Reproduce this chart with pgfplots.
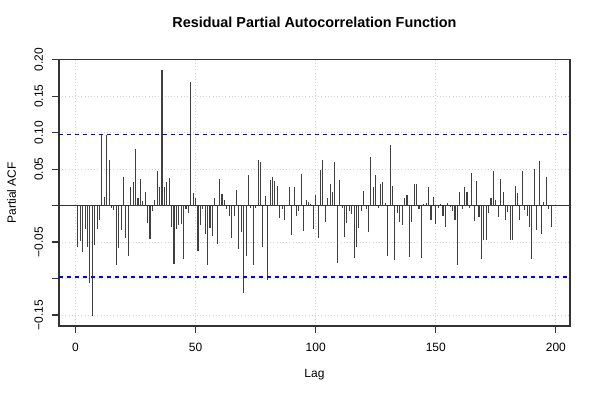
\documentclass[border=0pt]{standalone}
\usepackage{pgfplots}
\pgfplotsset{compat=1.18}
\usepackage{fontspec}
\setmainfont{Liberation Sans}
\definecolor{rblue}{RGB}{0,0,255}
\definecolor{rgrid}{RGB}{211,211,211}
\begin{document}
\begin{tikzpicture}
\path[use as bounding box] (0,0) rectangle (450pt,300pt);
\begin{axis}[
  at={(44.25pt,55.5pt)}, anchor=south west,
  scale only axis, width=383.25pt, height=199.9pt,
  xmin=-6.88, xmax=205.88, ymin=-0.16501, ymax=0.2003,
  axis line style={draw=black!80, line width=0.9pt},
  tick style={draw=black!80, line width=0.9pt},
  tick align=outside, major tick length=5.25pt,
  xtick pos=bottom, ytick pos=left,
  xtick={0,50,100,150,200},
  ytick={-0.15,-0.1,-0.05,0,0.05,0.1,0.15,0.2},
  yticklabels={−0.15,,−0.05,,0.05,0.10,0.15,0.20},
  /pgf/number format/assume math mode=true,
  tick label style={font=\fontsize{9}{11}\selectfont},
  xticklabel style={anchor=center, yshift=-10.5pt},
  yticklabel style={xshift=-10pt, rotate=90, anchor=center},
  grid=major, grid style={draw=rgrid, dotted, line width=0.75pt},
  every axis title/.style={at={(axis description cs:0.5,1)}, yshift=28pt, anchor=center, font=\bfseries\fontsize{10.8}{13}\selectfont},
  every axis x label/.style={at={(axis description cs:0.5,0)}, yshift=-36.75pt, anchor=center, font=\fontsize{9}{11}\selectfont},
  every axis y label/.style={at={(axis description cs:0,0.5)}, xshift=-35.5pt, rotate=90, anchor=center, font=\fontsize{9}{11}\selectfont},
  title={Residual Partial Autocorrelation Function},
  xlabel={Lag}, ylabel={Partial ACF},
]
\addplot[color=black!80, line width=0.9pt] coordinates {(-6.88,0) (205.88,0)};
\addplot[ycomb, color=black!75, line width=0.8pt, mark=none] table {
x y
1 -0.057
2 -0.049
3 -0.063
4 -0.032
5 -0.057
6 -0.106
7 -0.151
8 -0.054
9 -0.032
10 -0.020
11 0.097
12 0.012
13 0.097
14 0.063
15 -0.003
16 -0.006
17 -0.082
18 -0.058
19 -0.034
20 0.039
21 -0.044
22 -0.069
23 0.025
24 0.032
25 0.077
26 0.011
27 0.036
28 0.006
29 0.018
30 -0.024
31 -0.046
32 -0.008
33 0.007
34 0.047
35 0.025
36 0.186
37 0.025
38 0.033
39 0.038
40 -0.030
41 -0.080
42 -0.032
43 -0.026
44 -0.025
45 -0.073
46 -0.005
47 -0.010
48 0.170
49 0.017
50 0.010
51 -0.062
52 -0.026
53 -0.005
54 -0.039
55 -0.082
56 -0.031
57 -0.042
58 0.011
59 -0.053
60 0.036
61 0.016
62 0.007
63 -0.005
64 -0.014
65 -0.044
66 -0.014
67 0.022
68 -0.060
69 -0.036
70 -0.120
71 -0.069
72 0.042
73 -0.003
74 -0.082
75 -0.003
76 0.062
77 0.060
78 -0.057
79 0.013
80 -0.102
81 0.035
82 0.039
83 0.034
84 0.027
85 -0.017
86 -0.004
87 -0.020
88 0.001
89 0.025
90 -0.040
91 0.025
92 -0.014
93 -0.008
94 0.043
95 -0.035
96 0.007
97 0.005
98 0.002
99 -0.032
100 0.015
101 -0.044
102 0.049
103 0.063
104 -0.022
105 0.010
106 0.029
107 0.019
108 0.060
109 -0.078
110 0.035
111 -0.003
112 -0.043
113 -0.024
114 -0.008
115 -0.012
116 -0.072
117 -0.057
118 -0.031
119 -0.007
120 0.020
121 -0.004
122 -0.036
123 0.066
124 0.025
125 0.042
126 -0.003
127 0.029
128 0.033
129 0.003
130 -0.069
131 0.083
132 0.027
133 -0.074
134 -0.010
135 -0.023
136 -0.027
137 0.010
138 0.014
139 -0.071
140 -0.023
141 0.029
142 0.029
143 -0.005
144 -0.072
145 0.002
146 0.004
147 0.025
148 -0.020
149 0.012
150 -0.025
151 -0.003
152 0.002
153 -0.014
154 -0.029
155 0.004
156 -0.001
157 -0.008
158 -0.020
159 -0.082
160 0.019
161 -0.005
162 0.026
163 0.019
164 -0.003
165 0.045
166 -0.021
167 0.034
168 -0.015
169 -0.073
170 -0.047
171 -0.047
172 -0.010
173 0.011
174 0.047
175 0.008
176 -0.015
177 0.036
178 0.019
179 -0.020
180 -0.009
181 -0.047
182 -0.047
183 0.027
184 0.017
185 -0.020
186 0.047
187 -0.006
188 -0.014
189 -0.030
190 -0.073
191 0.050
192 -0.033
193 0.061
194 -0.039
195 0.005
196 0.039
197 -0.004
198 -0.029
};
\addplot[color=rblue, line width=0.9pt, dash pattern=on 3pt off 3pt] coordinates {(-6.88,0.098) (205.88,0.098)};
\addplot[color=rblue, line width=1.2pt, dash pattern=on 3pt off 3pt] coordinates {(-6.88,-0.098) (205.88,-0.098)};
\end{axis}
\end{tikzpicture}
\end{document}
